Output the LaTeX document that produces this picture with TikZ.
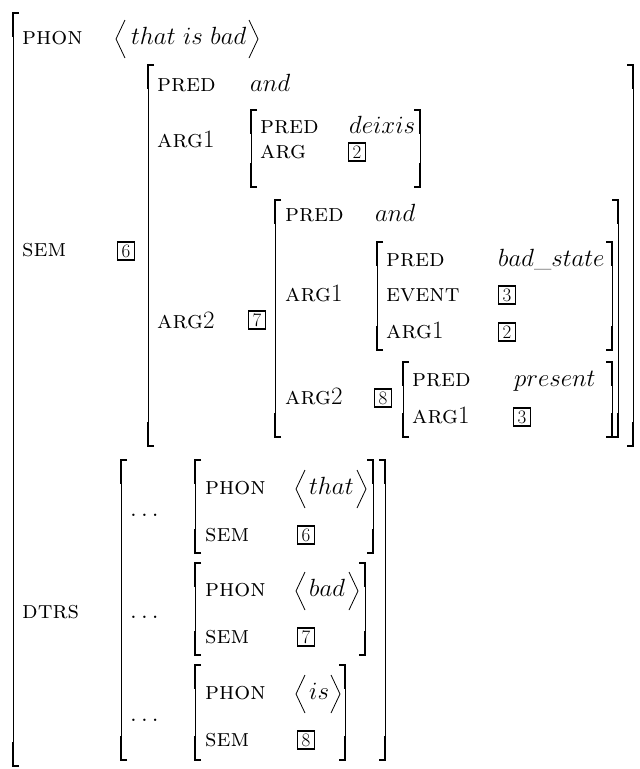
\documentclass[tikz,border=0pt]{standalone}
\usepackage{amsmath}
\tikzset{
  lab/.style={anchor=base west, inner sep=0pt, font=\fontsize{25}{29}\selectfont\scshape},
  val/.style={anchor=base west, inner sep=0pt, font=\fontsize{25}{29}\selectfont},
  tagbox/.style={draw, line width=1.8pt, inner sep=0pt, minimum width=17pt, minimum height=18pt, font=\fontsize{19}{21}\selectfont},
  brthin/.style={line width=0.8pt},
  brthick/.style={line width=1.6pt},
  angle/.style={line width=0.8pt},
}
\newcommand\LBr[3]{%
  \draw[brthin] (#1,#2) -- (#1,#3);
  \draw[brthick] (#1+6,#2) -- (#1,#2) -- (#1,#2+24);
  \draw[brthick] (#1+6,#3) -- (#1,#3) -- (#1,#3-24);}
\newcommand\RBr[3]{%
  \draw[brthin] (#1,#2) -- (#1,#3);
  \draw[brthick] (#1-6,#2) -- (#1,#2) -- (#1,#2+24);
  \draw[brthick] (#1-6,#3) -- (#1,#3) -- (#1,#3-24);}
% angle brackets: x of the point, y middle
\newcommand\LAng[2]{\draw[angle] (#1+9,#2-19) -- (#1,#2) -- (#1+9,#2+19);}
\newcommand\RAng[2]{\draw[angle] (#1-9,#2-19) -- (#1,#2) -- (#1-9,#2+19);}
\begin{document}
\begin{tikzpicture}[x=1pt,y=-1pt]
\useasboundingbox (0,0) rectangle (640,769);
% outer
\LBr{13}{13}{766}
\node[lab] (phon) at (22,44) {phon};
\LAng{116}{39}
\node[val] (phonv) at (131,44) {$that\ is\ bad$};
\RAng{258}{39}
\node[lab] (sem) at (22,256) {sem};
\node[tagbox] (t6) at (126,251) {6};
% SEM value
\LBr{148}{65}{446}
\RBr{633}{65}{446}
\node[lab] (p1) at (157,91) {pred};
\node[val] (p1v) at (250,91) {$and$};
\node[lab] (a1) at (157,147) {arg{\normalfont\upshape 1}};
\LBr{251}{110}{187}
\RBr{420}{110}{187}
\node[lab] (p2) at (260,133) {pred};
\node[val] (p2v) at (349,133) {$deixis$};
\node[lab] (a2) at (260,158) {arg};
\node[tagbox] (t2a) at (357,152) {2};
\node[lab] (a3) at (157,328) {arg{\normalfont\upshape 2}};
\node[tagbox] (t7) at (257,320) {7};
% tag 7 value
\LBr{275}{200}{437}
\RBr{618}{200}{437}
\node[lab] (p3) at (285,221) {pred};
\node[val] (p3v) at (375,221) {$and$};
\node[lab] (a4) at (285,301) {arg{\normalfont\upshape 1}};
\LBr{377}{242}{350}
\RBr{612}{242}{350}
\node[lab] (p4) at (386,266) {pred};
\node[val] (p4v) at (498,266) {$bad\_state$};
\node[lab] (e1) at (386,301) {event};
\node[tagbox] (t3a) at (507,295) {3};
\node[lab] (a5) at (386,338) {arg{\normalfont\upshape 1}};
\node[tagbox] (t2b) at (507,332) {2};
\node[lab] (a6) at (285,404) {arg{\normalfont\upshape 2}};
\node[tagbox] (t8) at (383,398) {8};
\LBr{403}{362}{437}
\RBr{612}{362}{437}
\node[lab] (p5) at (412,386) {pred};
\node[val] (p5v) at (514,386) {$present$};
\node[lab] (a7) at (412,423) {arg{\normalfont\upshape 1}};
\node[tagbox] (t3b) at (522,417) {3};
% DTRS
\node[lab] (dtrs) at (22,618) {dtrs};
\LBr{121}{460}{760}
\RBr{385}{460}{760}
\node[val] (d1) at (130,516) {$\ldots$};
\node[val] (d2) at (130,618) {$\ldots$};
\node[val] (d3) at (130,721) {$\ldots$};
% daughter 1
\LBr{195}{460}{553}
\RBr{373}{460}{553}
\node[lab] (dp1) at (205,494) {phon};
\LAng{296}{489}
\node[val] (dp1v) at (309,494) {$that$};
\RAng{366}{489}
\node[lab] (ds1) at (205,541) {sem};
\node[tagbox] (dt6) at (306,535) {6};
% daughter 2
\LBr{195}{563}{655}
\RBr{365}{563}{655}
\node[lab] (dp2) at (205,596) {phon};
\LAng{296}{591}
\node[val] (dp2v) at (309,596) {$bad$};
\RAng{358}{591}
\node[lab] (ds2) at (205,643) {sem};
\node[tagbox] (dt7) at (306,637) {7};
% daughter 3
\LBr{195}{665}{760}
\RBr{345}{665}{760}
\node[lab] (dp3) at (205,699) {phon};
\LAng{296}{694}
\node[val] (dp3v) at (309,699) {$is$};
\RAng{340}{694}
\node[lab] (ds3) at (205,746) {sem};
\node[tagbox] (dt8) at (306,740) {8};
\end{tikzpicture}
\end{document}
